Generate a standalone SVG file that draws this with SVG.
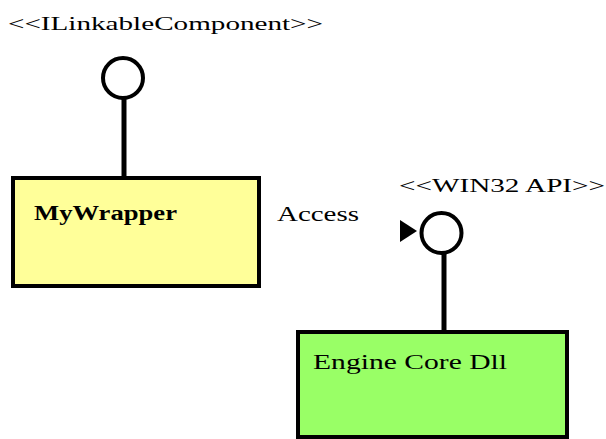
<svg xmlns="http://www.w3.org/2000/svg" width="606" height="439" viewBox="0 0 606 439">
<style>
text{font-family:"Liberation Serif","Times New Roman",serif;fill:#000}
.box{stroke:#000;stroke-width:4}
.stem{stroke:#000;stroke-width:5;fill:none}
.lolly{fill:#fff;stroke:#000;stroke-width:4}
</style>
<rect width="606" height="439" fill="#fff"/>
<g id="connectors">
<line class="stem" x1="124" y1="98" x2="124" y2="178"/>
<line class="stem" x1="444" y1="254" x2="444" y2="332"/>
<polygon points="400,220 417,231 400,242" fill="#000"/>
</g>
<g id="ILinkableComponent">
<text x="8" y="30" font-size="19" textLength="315" lengthAdjust="spacingAndGlyphs">&lt;&lt;ILinkableComponent&gt;&gt;</text>
<circle class="lolly" cx="123" cy="78" r="20"/>
</g>
<g id="MyWrapper">
<rect class="box" x="13" y="178" width="246" height="108" fill="#FFFF99"/>
<text x="34" y="220" font-size="20" font-weight="bold" textLength="143" lengthAdjust="spacingAndGlyphs">MyWrapper</text>
</g>
<g id="Access">
<text x="277" y="221" font-size="20" textLength="82" lengthAdjust="spacingAndGlyphs">Access</text>
</g>
<g id="WIN32API">
<text x="399" y="192" font-size="19" textLength="206" lengthAdjust="spacingAndGlyphs">&lt;&lt;WIN32 API&gt;&gt;</text>
<circle class="lolly" cx="441.5" cy="233" r="20"/>
</g>
<g id="EngineCoreDll">
<rect class="box" x="298" y="332" width="269" height="105" fill="#99FF66"/>
<text x="313" y="369" font-size="20" textLength="194" lengthAdjust="spacingAndGlyphs">Engine Core Dll</text>
</g>
</svg>
